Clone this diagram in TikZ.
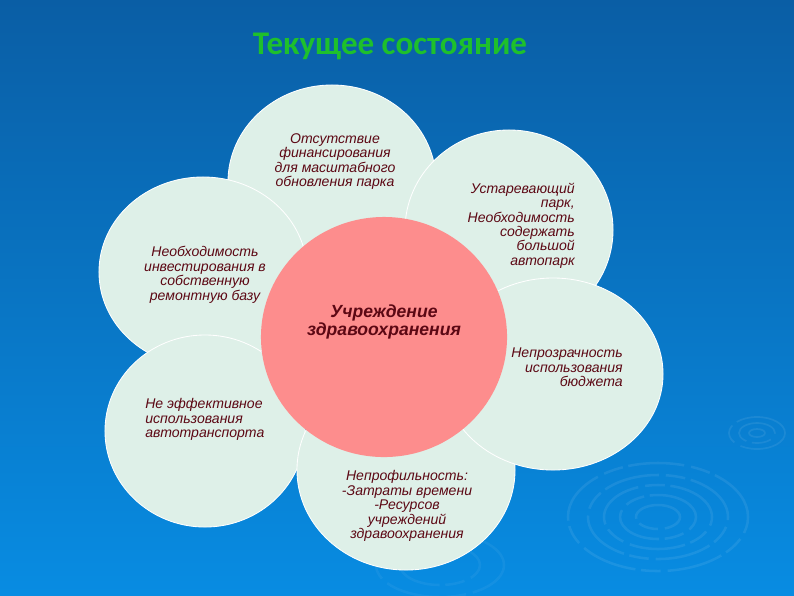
\documentclass[tikz,border=0pt]{standalone}
\usepackage{fontspec}
\setmainfont{Liberation Sans}
\newfontfamily\headfont{Carlito}
\usetikzlibrary{shapes.geometric}
\definecolor{bgtop}{RGB}{10,94,165}
\definecolor{bgbottom}{RGB}{8,140,226}
\definecolor{petalfill}{RGB}{222,240,232}
\definecolor{corefill}{RGB}{253,141,141}
\definecolor{notered}{RGB}{92,8,20}
\definecolor{titlegreen}{RGB}{30,192,44}

\begin{document}
\begin{tikzpicture}[x=0.025cm,y=-0.025cm,
			petal/.style={draw=white,line width=.6pt,fill=petalfill,ellipse,inner sep=0pt},
			core/.style={fill=corefill,ellipse,inner sep=0pt},
			note/.style={text=notered,inner sep=0pt,font=\fontsize{10}{10.3}\selectfont\itshape},
			ripple/.style={draw=white,draw opacity=.08,line width=1.8pt,dash pattern=on 40pt off 4pt on 14pt off 5pt}]
			\useasboundingbox (0,0) rectangle (794,595);
			\fill [top color=bgtop,bottom color=bgbottom] (0,0) rectangle (794,595);

			\draw [ripple] (658,517) ellipse [x radius=2.25cm,y radius=1.35cm]
				(658,517) ellipse [x radius=1.75cm,y radius=1.05cm]
				(658,517) ellipse [x radius=1.35cm,y radius=.8cm]
				(658,517) ellipse [x radius=.95cm,y radius=.55cm]
				(658,517) ellipse [x radius=.55cm,y radius=.3cm];
			\draw [ripple,line width=1.2pt] (757,433) ellipse [x radius=.7cm,y radius=.4cm]
				(757,433) ellipse [x radius=.45cm,y radius=.25cm]
				(757,433) ellipse [x radius=.2cm,y radius=.1cm];
			\draw [ripple,draw opacity=.05] (440,565) ellipse [x radius=1.6cm,y radius=.8cm]
				(440,565) ellipse [x radius=1cm,y radius=.5cm];

			\node (top) [petal,minimum width=5.2cm,minimum height=4.85cm] at (332,182) {};
			\node (upright) [petal,minimum width=5.2cm,minimum height=5cm] at (509,230) {};
			\node (upleft) [petal,minimum width=5.2cm,minimum height=4.75cm] at (203,272) {};
			\node (lowleft) [petal,minimum width=5cm,minimum height=4.8cm] at (205,431) {};
			\node (lower) [petal,minimum width=5.45cm,minimum height=5cm] at (406,470) {};
			\node (lowright) [petal,minimum width=5.5cm,minimum height=4.8cm] at (553,374) {};
			\node (core) [core,minimum width=6.15cm,minimum height=6cm] at (384,337) {};

			\node (title) [text=titlegreen,font=\headfont\bfseries\fontsize{23.5}{28}\selectfont] at (390,46) {Текущее состояние};

			\node (topnote) [note,align=center] at (335,161.5) {Отсутствие\\финансирования\\для масштабного\\обновления парка};
			\node (uprightnote) [note,align=right,anchor=east] at (575,225.5) {Устаревающий\\парк,\\Необходимость\\содержать\\большой\\автопарк};
			\node (upleftnote) [note,align=center] at (205,275) {Необходимость\\инвестирования в\\собственную\\ремонтную базу};
			\node (corenote) [note,align=center,font=\fontsize{12.5}{13.2}\selectfont\bfseries\itshape] at (384,322) {Учреждение\\здравоохранения};
			\node (lowrightnote) [note,align=right,anchor=east] at (623,367.5) {Непрозрачность\\использования\\бюджета};
			\node (lowleftnote) [note,align=left,anchor=west] at (145,419.5) {Не эффективное\\использования\\автотранспорта};
			\node (lowernote) [note,align=center] at (407,506) {Непрофильность:\\-Затраты времени\\-Ресурсов\\учреждений\\здравоохранения};
		\end{tikzpicture}
\end{document}
